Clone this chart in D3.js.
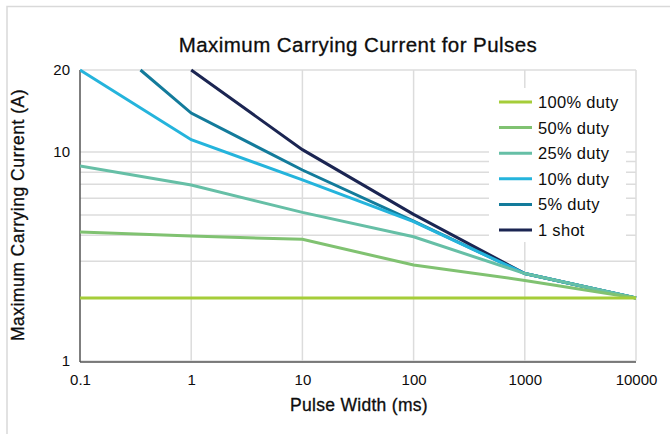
<!DOCTYPE html>
<html>
<head>
<meta charset="utf-8">
<script src="https://cdn.jsdelivr.net/npm/d3@7"></script>
<style>
  body { margin: 0; background: #fff; }
  text { font-family: "Liberation Sans", Arial, sans-serif; fill: #0d0d0d; }
  .heavy { stroke: #0d0d0d; stroke-width: 0.3px; }
</style>
</head>
<body>
<svg id="chart" width="670" height="434"></svg>
<script>
// pulse width (ms) on x, current (A) on y
var xTicks = [0.1, 1, 10, 100, 1000, 10000];
var yTicks = [1, 10, 20];
var yGrid = [1, 2, 3, 4, 5, 6, 7, 8, 9, 10, 20];

var seriesNames = ['100% duty', '50% duty', '25% duty', '10% duty', '5% duty', '1 shot'];
var seriesColors = ['#a5cd39', '#80c271', '#66bfa6', '#25b4dc', '#137b9b', '#1b2552'];

var duty100 = [[0.1, 2], [1, 2], [10, 2], [100, 2], [1000, 2], [10000, 2]];
var duty50 = [[0.1, 4.14], [1, 3.96], [10, 3.82], [100, 2.88], [1000, 2.43], [10000, 2]];
var duty25 = [[0.1, 8.57], [1, 6.95], [10, 5.14], [100, 3.93], [1000, 2.62], [10000, 2]];
var duty10 = [[0.1, 20], [1, 11.1], [10, 7.35], [100, 4.64], [1000, 2.62], [10000, 2]];
var duty5 = [[0.35, 20], [1, 13.9], [10, 8.2], [100, 4.67], [1000, 2.62], [10000, 2]];
var oneShot = [[1, 20], [10, 10.2], [100, 5.03], [1000, 2.62], [10000, 2]];

var allSeries = [duty100, duty50, duty25, duty10, duty5, oneShot];

var svg = d3.select('#chart');
var plotLeft = 80, plotRight = 636, plotTop = 70, plotBottom = 361;

var x = d3.scaleLog().domain([0.1, 10000]).range([plotLeft, plotRight]);
// the picture stretches the 10..20 band, so map log10 values piecewise
var yLog = d3.scaleLinear().domain([0, 1, Math.log10(20)]).range([plotBottom, 152, plotTop]);
function y(v) { return yLog(Math.log10(v)); }

// outer frame (cropped on right and bottom)
svg.append('path')
  .attr('d', 'M7,434V6.5H670')
  .attr('fill', 'none')
  .attr('stroke', '#d9d9d9')
  .attr('stroke-width', 1.5);

svg.append('text')
  .attr('class', 'heavy')
  .attr('x', 358)
  .attr('y', 52)
  .attr('text-anchor', 'middle')
  .style('font-size', '20.5px')
  .style('letter-spacing', '0.45px')
  .text('Maximum Carrying Current for Pulses');

// grid
svg.append('g').selectAll('line')
  .data(yGrid)
  .enter().append('line')
  .attr('x1', plotLeft).attr('x2', plotRight)
  .attr('y1', function(d) { return y(d); })
  .attr('y2', function(d) { return y(d); })
  .attr('stroke', '#dcdcdc')
  .attr('stroke-width', 1.5);

svg.append('g').selectAll('line')
  .data(xTicks.slice(1))
  .enter().append('line')
  .attr('x1', function(d) { return x(d); })
  .attr('x2', function(d) { return x(d); })
  .attr('y1', plotTop).attr('y2', plotBottom)
  .attr('stroke', '#dcdcdc')
  .attr('stroke-width', 1.5);

// axes
svg.append('line')
  .attr('x1', plotLeft).attr('x2', plotLeft)
  .attr('y1', plotTop).attr('y2', plotBottom + 1)
  .attr('stroke', '#555')
  .attr('stroke-width', 1.5);
svg.append('line')
  .attr('x1', plotLeft).attr('x2', plotRight)
  .attr('y1', plotBottom + 1).attr('y2', plotBottom + 1)
  .attr('stroke', '#555')
  .attr('stroke-width', 1.5);

var xAxis = d3.axisBottom(x)
  .tickValues(xTicks)
  .tickFormat(function(d) { return String(d); })
  .tickSize(0)
  .tickPadding(12);
var gx = svg.append('g')
  .attr('transform', 'translate(0,' + (plotBottom + 1) + ')')
  .call(xAxis);
gx.select('.domain').remove();
gx.selectAll('text')
  .style('font-size', '15px')
  .style('font-family', '"Liberation Sans", Arial, sans-serif')
  .attr('fill', '#0d0d0d');

svg.append('g').selectAll('text')
  .data(yTicks)
  .enter().append('text')
  .attr('x', 70)
  .attr('y', function(d) { return y(d) + 5; })
  .attr('text-anchor', 'end')
  .style('font-size', '15px')
  .text(function(d) { return d; });

svg.append('text')
  .attr('class', 'heavy')
  .attr('x', 359)
  .attr('y', 411)
  .attr('text-anchor', 'middle')
  .style('font-size', '17.5px')
  .style('letter-spacing', '0.3px')
  .text('Pulse Width (ms)');

svg.append('text')
  .attr('class', 'heavy')
  .attr('transform', 'translate(24,215) rotate(-90)')
  .attr('text-anchor', 'middle')
  .style('font-size', '17.5px')
  .style('letter-spacing', '0.5px')
  .text('Maximum Carrying Current (A)');

// legend background hides grid lines behind it
svg.append('rect')
  .attr('x', 489).attr('y', 88)
  .attr('width', 137).attr('height', 154)
  .attr('fill', '#fff');

// series lines
svg.append('clipPath').attr('id', 'plot-clip')
  .append('rect')
  .attr('x', plotLeft).attr('y', plotTop - 2)
  .attr('width', plotRight - plotLeft + 2).attr('height', plotBottom - plotTop + 2);

var line = d3.line()
  .x(function(d) { return x(d[0]); })
  .y(function(d) { return y(d[1]); });

var order = d3.range(allSeries.length).reverse();
svg.append('g')
  .attr('clip-path', 'url(#plot-clip)')
  .selectAll('path')
  .data(order)
  .enter().append('path')
  .attr('d', function(i) { return line(allSeries[i]); })
  .attr('fill', 'none')
  .attr('stroke', function(i) { return seriesColors[i]; })
  .attr('stroke-width', 3);

var legend = svg.append('g').selectAll('g')
  .data(seriesNames)
  .enter().append('g')
  .attr('transform', function(d, i) { return 'translate(499,' + (102 + i * 25.6) + ')'; });
legend.append('line')
  .attr('x1', 0).attr('x2', 33)
  .attr('stroke', function(d, i) { return seriesColors[i]; })
  .attr('stroke-width', 3);
legend.append('text')
  .attr('x', 39)
  .attr('y', 6)
  .style('font-size', '16.5px')
  .style('letter-spacing', '0.3px')
  .text(function(d) { return d; });
</script>
</body>
</html>
